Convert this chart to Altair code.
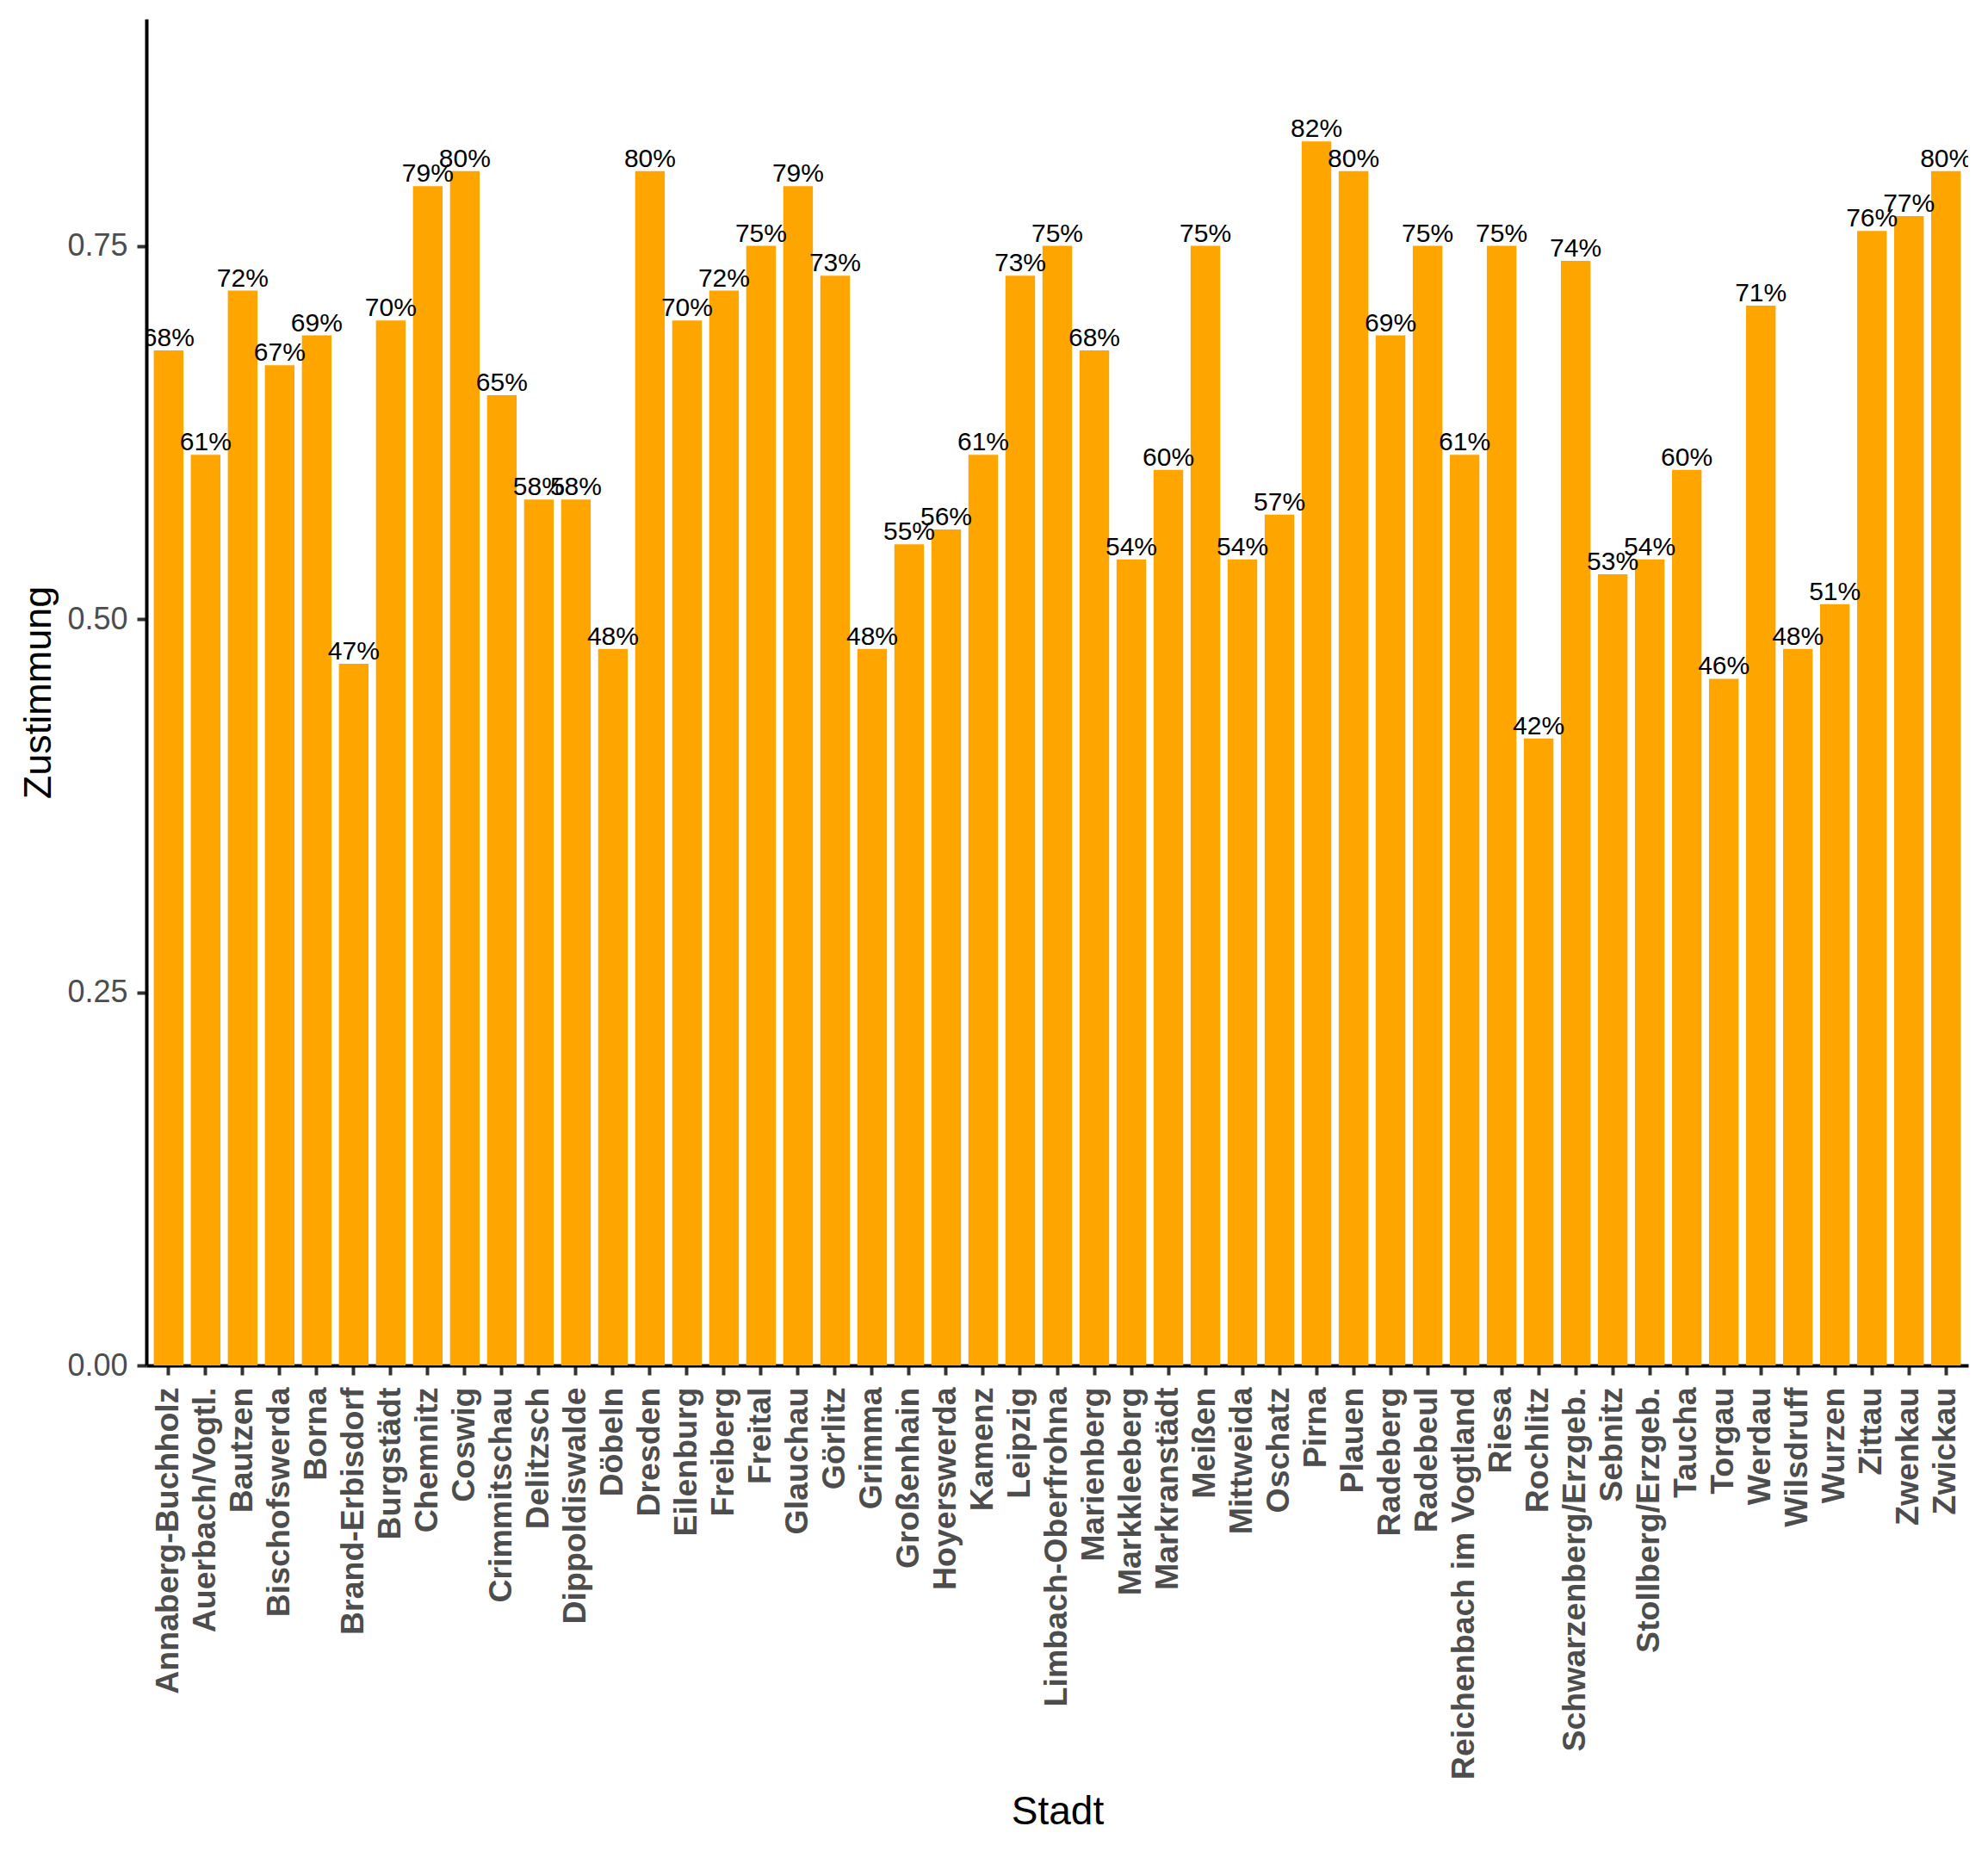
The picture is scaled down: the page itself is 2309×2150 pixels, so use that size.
import altair as alt
import pandas as pd

staedte = [
    "Annaberg-Buchholz", "Auerbach/Vogtl.", "Bautzen", "Bischofswerda", "Borna",
    "Brand-Erbisdorf", "Burgstädt", "Chemnitz", "Coswig", "Crimmitschau",
    "Delitzsch", "Dippoldiswalde", "Döbeln", "Dresden", "Eilenburg",
    "Freiberg", "Freital", "Glauchau", "Görlitz", "Grimma",
    "Großenhain", "Hoyerswerda", "Kamenz", "Leipzig", "Limbach-Oberfrohna",
    "Marienberg", "Markkleeberg", "Markranstädt", "Meißen", "Mittweida",
    "Oschatz", "Pirna", "Plauen", "Radeberg", "Radebeul",
    "Reichenbach im Vogtland", "Riesa", "Rochlitz", "Schwarzenberg/Erzgeb.", "Sebnitz",
    "Stollberg/Erzgeb.", "Taucha", "Torgau", "Werdau", "Wilsdruff",
    "Wurzen", "Zittau", "Zwenkau", "Zwickau",
]

zustimmung = [
    0.68, 0.61, 0.72, 0.67, 0.69,
    0.47, 0.70, 0.79, 0.80, 0.65,
    0.58, 0.58, 0.48, 0.80, 0.70,
    0.72, 0.75, 0.79, 0.73, 0.48,
    0.55, 0.56, 0.61, 0.73, 0.75,
    0.68, 0.54, 0.60, 0.75, 0.54,
    0.57, 0.82, 0.80, 0.69, 0.75,
    0.61, 0.75, 0.42, 0.74, 0.53,
    0.54, 0.60, 0.46, 0.71, 0.48,
    0.51, 0.76, 0.77, 0.80,
]

y_ticks = [0.0, 0.25, 0.5, 0.75]

df = pd.DataFrame({"Stadt": staedte, "Zustimmung": zustimmung})

FONT = "Liberation Sans"

x_enc = alt.X(
    "Stadt:N",
    sort=None,
    scale=alt.Scale(paddingInner=0.2, paddingOuter=0.2),
    axis=alt.Axis(
        title="Stadt",
        labelAngle=-90,
        labelFont=FONT,
        labelFontSize=37.5,
        labelFontWeight="bold",
        labelColor="#4d4d4d",
        labelPadding=14,
        labelOverlap=False,
        labelLimit=1000,
        tickSize=11,
        tickWidth=4,
        tickColor="#333333",
        domainColor="black",
        domainWidth=4,
        titleFont=FONT,
        titleFontSize=46,
        titleFontWeight="normal",
        titleColor="black",
        titleBaseline="alphabetic",
        titleY=532,
        grid=False,
    ),
)

y_enc = alt.Y(
    "Zustimmung:Q",
    scale=alt.Scale(domain=[0, 0.902], nice=False, zero=True),
    axis=alt.Axis(
        title="Zustimmung",
        values=y_ticks,
        format=".2f",
        labelFont=FONT,
        labelFontSize=36,
        labelColor="#4d4d4d",
        labelPadding=11,
        tickSize=11,
        tickWidth=4,
        tickColor="#333333",
        domainColor="black",
        domainWidth=4,
        titleFont=FONT,
        titleFontSize=45,
        titleFontWeight="normal",
        titleColor="black",
        titleBaseline="alphabetic",
        titleX=-112,
        grid=False,
    ),
)

base = alt.Chart(df).encode(x=x_enc, y=y_enc)

bars = base.mark_bar(color="#FFA500")

labels = base.mark_text(
    font=FONT,
    fontSize=30,
    color="black",
    baseline="alphabetic",
    dy=-5,
    clip=True,
).encode(text=alt.Text("Zustimmung:Q", format=".0%"))

chart = (
    alt.layer(bars, labels)
    .properties(
        width=2116,
        height=1564,
        autosize=alt.AutoSizeParams(type="none"),
        padding={"left": 170, "top": 22, "right": 23, "bottom": 564},
        background="white",
    )
    .configure_view(stroke=None)
)

chart.save("out.html", embed_options={"renderer": "svg", "actions": False})
